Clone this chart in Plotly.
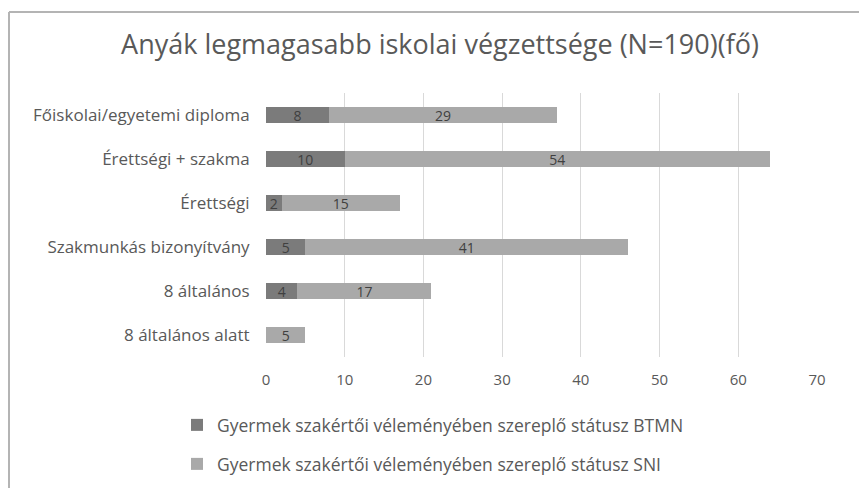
import plotly.graph_objects as go

categories = ["Főiskolai/egyetemi diploma", "Érettségi + szakma", "Érettségi",
              "Szakmunkás bizonyítvány", "8 általános", "8 általános alatt"]
btmn = [8, 10, 2, 5, 4, 0]
sni = [29, 54, 15, 41, 17, 5]
series_names = ["Gyermek szakértői véleményében szereplő státusz BTMN",
                "Gyermek szakértői véleményében szereplő státusz SNI"]
x_ticks = [0, 10, 20, 30, 40, 50, 60, 70]

FONT = "Open Sans"
TXT = "#595959"

# page body adds an 8px margin; coordinates below are in screen pixels
OFF = 8
W, H = 867 - OFF, 488 - OFF
PL, PR, PT, PB = 266, 817, 93, 357  # plot area in screen pixels
L, R, T, B = PL - OFF, W - (PR - OFF), PT - OFF, H - (PB - OFF)
pw, ph = W - L - R, H - T - B


def px(xs):
    return (xs - OFF - L) / pw


def py(ys):
    return (H - B - (ys - OFF)) / ph


fig = go.Figure()
fig.add_trace(go.Bar(
    y=categories, x=btmn, orientation="h", name=series_names[0],
    marker=dict(color="#7b7b7b", line=dict(width=0)),
    text=[str(v) if v else "" for v in btmn], textposition="inside", textangle=0,
    insidetextanchor="middle", constraintext="none",
    textfont=dict(color="#404040", size=14, family=FONT),
    legend="legend",
))
fig.add_trace(go.Bar(
    y=categories, x=sni, orientation="h", name=series_names[1],
    marker=dict(color="#a9a9a9", line=dict(width=0)),
    text=[str(v) if v else "" for v in sni], textposition="inside", textangle=0,
    insidetextanchor="middle", constraintext="none",
    textfont=dict(color="#404040", size=14, family=FONT),
    legend="legend2",
))

fig.update_layout(
    width=W, height=H,
    margin=dict(l=L, r=R, t=T, b=B, autoexpand=False),
    barmode="stack", bargap=0.62,
    paper_bgcolor="white", plot_bgcolor="white",
    font=dict(family=FONT, color=TXT, size=15),
    title=dict(text="Anyák legmagasabb iskolai végzettsége (N=190)(fő)",
               x=(440 - OFF) / W, xref="container", xanchor="center",
               y=1 - (45 - OFF) / H, yanchor="middle",
               font=dict(size=27, color=TXT, family=FONT)),
    xaxis=dict(range=[0, 70], tickvals=x_ticks, showgrid=True, gridcolor="#d9d9d9",
               gridwidth=1, zeroline=False, showline=False, ticks="outside",
               ticklen=9, tickcolor="rgba(0,0,0,0)", tickfont=dict(size=15, color=TXT),
               automargin=False),
    yaxis=dict(categoryorder="array", categoryarray=categories, autorange="reversed",
               showgrid=False, zeroline=False, showline=False, ticks="outside",
               ticklen=12, tickcolor="rgba(0,0,0,0)", tickfont=dict(size=17, color=TXT),
               automargin=False),
    legend=dict(x=px(177), y=py(407), xanchor="left", yanchor="top",
                font=dict(size=17.5, color=TXT), bgcolor="rgba(0,0,0,0)", itemwidth=30),
    legend2=dict(x=px(177), y=py(446), xanchor="left", yanchor="top",
                 font=dict(size=17.5, color=TXT), bgcolor="rgba(0,0,0,0)", itemwidth=30),
    showlegend=True,
    shapes=[
        dict(type="line", xref="paper", yref="paper", x0=px(9), x1=px(880),
             y0=py(12), y1=py(12), line=dict(color="#b4b4b4", width=2)),
        dict(type="line", xref="paper", yref="paper", x0=px(9), x1=px(9),
             y0=py(12), y1=py(500), line=dict(color="#b4b4b4", width=2)),
    ],
)

fig.write_html("out.html")
